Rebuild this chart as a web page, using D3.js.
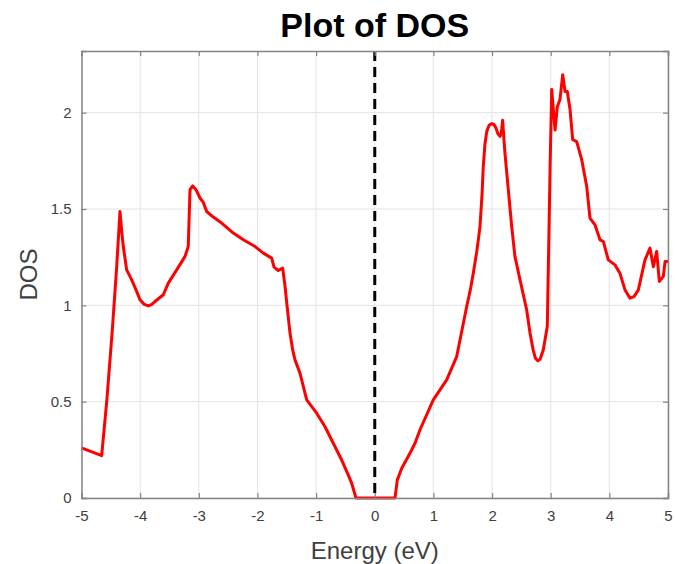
<!DOCTYPE html>
<html><head><meta charset="utf-8">
<script src="https://cdn.jsdelivr.net/npm/d3@7"></script>
<style>body{margin:0;background:#fff;} svg{display:block;}</style>
</head><body>
<svg id="chart" width="675" height="564"></svg>
<script>
const energy = [-5.0,-4.656,-4.57,-4.475,-4.4,-4.344,-4.31,-4.287,-4.23,-4.144,-4.07,-4.003,-3.93,-3.86,-3.8,-3.747,-3.605,-3.52,-3.377,-3.235,-3.18,-3.15,-3.104,-3.048,-2.98,-2.923,-2.866,-2.753,-2.61,-2.412,-2.24,-2.04,-1.9,-1.757,-1.718,-1.645,-1.57,-1.53,-1.5,-1.445,-1.4,-1.36,-1.275,-1.16,-0.99,-0.848,-0.707,-0.564,-0.45,-0.393,-0.32,0.345,0.385,0.46,0.6,0.686,0.77,0.998,1.112,1.226,1.397,1.48,1.568,1.63,1.68,1.74,1.795,1.83,1.85,1.88,1.91,1.95,1.994,2.03,2.067,2.1,2.136,2.16,2.18,2.22,2.277,2.335,2.39,2.477,2.59,2.647,2.7,2.74,2.78,2.82,2.874,2.942,2.96,2.99,3.017,3.074,3.113,3.159,3.205,3.244,3.283,3.33,3.375,3.443,3.529,3.614,3.67,3.755,3.84,3.897,3.982,4.096,4.18,4.267,4.352,4.42,4.494,4.608,4.693,4.75,4.807,4.852,4.92,4.95,5.0];
const dos = [0.26,0.22,0.5,0.87,1.2,1.487,1.37,1.305,1.184,1.132,1.08,1.029,1.005,0.997,1.005,1.02,1.055,1.115,1.184,1.254,1.305,1.6,1.62,1.6,1.557,1.534,1.487,1.458,1.427,1.375,1.34,1.305,1.271,1.245,1.198,1.181,1.193,1.1,1.011,0.856,0.77,0.717,0.648,0.509,0.44,0.37,0.284,0.197,0.119,0.076,0.0,0.0,0.094,0.154,0.232,0.284,0.353,0.509,0.561,0.613,0.734,0.86,0.994,1.08,1.167,1.28,1.41,1.58,1.72,1.84,1.903,1.935,1.943,1.94,1.92,1.89,1.877,1.9,1.96,1.79,1.6,1.41,1.254,1.132,0.977,0.856,0.77,0.725,0.712,0.72,0.769,0.89,1.2,1.72,2.12,1.91,2.03,2.07,2.197,2.11,2.11,2.016,1.86,1.85,1.756,1.617,1.453,1.418,1.34,1.332,1.236,1.21,1.167,1.08,1.037,1.045,1.08,1.236,1.297,1.2,1.28,1.124,1.15,1.228,1.228];
const xTicks = [-5,-4,-3,-2,-1,0,1,2,3,4,5];
const yTicks = [0,0.5,1,1.5,2];
const xDomain = [-5,5];
const yDomain = [0,2.32];
const titleText = "Plot of DOS";
const xLabel = "Energy (eV)";
const yLabel = "DOS";

const svg = d3.select("#chart");
const L=81.5, R=668, T=51, B=498;
const x = d3.scaleLinear().domain(xDomain).range([L,R]);
const y = d3.scaleLinear().domain(yDomain).range([B,T]);
const font = "'Liberation Sans', Arial, Helvetica, sans-serif";
const axisCol = "#858585";
const textCol = "#404040";

// grid
svg.append("g").selectAll("line").data(xTicks).join("line")
  .attr("x1",d=>x(d)).attr("x2",d=>x(d)).attr("y1",T).attr("y2",B)
  .attr("stroke","#e3e3e3").attr("stroke-width",1);
svg.append("g").selectAll("line").data(yTicks).join("line")
  .attr("x1",L).attr("x2",R).attr("y1",d=>y(d)).attr("y2",d=>y(d))
  .attr("stroke","#e3e3e3").attr("stroke-width",1);

// curve
const line = d3.line().x((d,i)=>x(energy[i])).y(d=>y(d));
svg.append("path").datum(dos).attr("d",line).attr("fill","none")
  .attr("stroke","#ff0000").attr("stroke-width",3).attr("stroke-linejoin","round");

// dashed fermi line
svg.append("line").attr("x1",x(0)).attr("x2",x(0)).attr("y1",y(yDomain[1])).attr("y2",y(0))
  .attr("stroke","#000").attr("stroke-width",3).attr("stroke-dasharray","10,6");

// axes (inward ticks)
const axB = d3.axisBottom(x).tickValues(xTicks).tickSize(-5).tickPadding(12).tickFormat(d=>String(d));
const axT = d3.axisTop(x).tickValues(xTicks).tickSize(-5).tickFormat("");
const axL = d3.axisLeft(y).tickValues(yTicks).tickSize(-5).tickPadding(10).tickFormat(d=>String(d));
const axR = d3.axisRight(y).tickValues(yTicks).tickSize(-5).tickFormat("");

function style(g){
  g.select(".domain").attr("stroke",axisCol).attr("stroke-width",1.5);
  g.selectAll(".tick line").attr("stroke",axisCol).attr("stroke-width",1.2);
  g.selectAll(".tick text").attr("fill",textCol).style("font-family",font).style("font-size","15px");
}
svg.append("g").attr("transform",`translate(0,${B})`).call(axB).call(style);
svg.append("g").attr("transform",`translate(0,${T})`).call(axT).call(style);
svg.append("g").attr("transform",`translate(${L},0)`).call(axL).call(style);
svg.append("g").attr("transform",`translate(${R},0)`).call(axR).call(style);

// title & labels
svg.append("text").attr("x",(L+R)/2).attr("y",37).attr("text-anchor","middle")
  .style("font-family",font).style("font-weight","bold").style("font-size","34px").attr("fill","#000").text(titleText);
svg.append("text").attr("x",(L+R)/2).attr("y",559).attr("text-anchor","middle")
  .style("font-family",font).style("font-size","24px").attr("fill",textCol).text(xLabel);
svg.append("text").attr("transform",`translate(37,${(T+B)/2}) rotate(-90)`).attr("text-anchor","middle")
  .style("font-family",font).style("font-size","24px").attr("fill",textCol).text(yLabel);
</script>
</body></html>
